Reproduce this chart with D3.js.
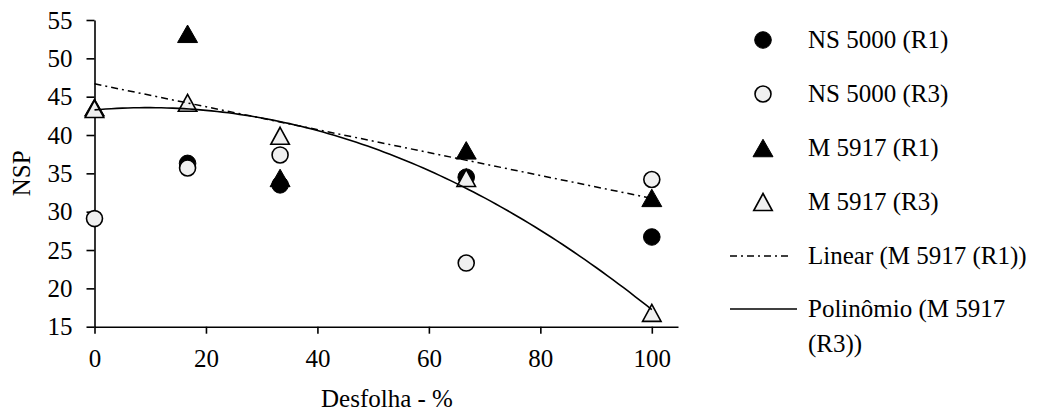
<!DOCTYPE html>
<html>
<head>
<meta charset="utf-8">
<script src="https://cdn.jsdelivr.net/npm/d3@7"></script>
<style>
  body { margin: 0; background: #fff; }
</style>
</head>
<body>
<div id="chart"></div>
<script>
// Desfolha levels (%)
const desfolha = [0, 16.7, 33.3, 66.7, 100];

// NSP per series (null = not plotted)
const ns5000R1 = [null, 36.3, 33.5, 34.5, 26.7];
const ns5000R3 = [29.1, 35.7, 37.4, 23.3, 34.2];
const m5917R1 = [43.6, 53.2, 34.4, 38.0, 31.8];
const m5917R3 = [43.4, 44.2, 39.9, 34.4, 16.8];

const xTicks = [0, 20, 40, 60, 80, 100];
const yTicks = [15, 20, 25, 30, 35, 40, 45, 50, 55];

const legendLabels = [
    "NS 5000 (R1)",
    "NS 5000 (R3)",
    "M 5917 (R1)",
    "M 5917 (R3)",
    "Linear (M 5917 (R1))",
    ["Polinômio (M 5917", "(R3))"]
];

const width = 1041, height = 412;
const fontSize = 25;
const serif = '"Liberation Serif", "DejaVu Serif", "Times New Roman", Times, serif';

const svg = d3.select("#chart").append("svg")
    .attr("width", width)
    .attr("height", height)
    .attr("font-family", serif);

// scales: x axis line runs a bit past 100
const x = d3.scaleLinear().domain([0, 104.7]).range([94.5, 678]);
const y = d3.scaleLinear().domain([15, 55]).range([326.7, 20]);

// axes
const xAxis = svg.append("g")
    .attr("transform", `translate(0,${y(15)})`)
    .call(d3.axisBottom(x).tickValues(xTicks).tickSize(7).tickSizeOuter(0).tickPadding(10));
const yAxis = svg.append("g")
    .attr("transform", `translate(${x(0)},0)`)
    .call(d3.axisLeft(y).tickValues(yTicks).tickSize(8).tickSizeOuter(0).tickPadding(14));

[xAxis, yAxis].forEach(a => {
    a.attr("font-family", serif).attr("font-size", fontSize);
    a.select(".domain").attr("stroke", "#000").attr("stroke-width", 1.6);
    a.selectAll(".tick line").attr("stroke", "#000").attr("stroke-width", 1.6);
    a.selectAll(".tick text")
        .style("font-family", serif)
        .style("font-size", fontSize + "px")
        .attr("fill", "#000");
});
xAxis.selectAll(".tick text").attr("dy", "0.95em");
yAxis.selectAll(".tick text").attr("dy", "0.33em");

// axis titles
svg.append("text")
    .attr("transform", `translate(30,${(y(15) + y(55)) / 2}) rotate(-90)`)
    .attr("text-anchor", "middle")
    .style("font-family", serif)
    .style("font-size", fontSize + "px")
    .text("NSP");
svg.append("text")
    .attr("x", 387)
    .attr("y", 407)
    .attr("text-anchor", "middle")
    .style("font-family", serif)
    .style("font-size", fontSize + "px")
    .text("Desfolha - %");

// marker helpers
function triPath(w, h) {
    return `M0,${-h / 2}L${w / 2},${h / 2}L${-w / 2},${h / 2}Z`;
}
const markers = {
    dot: g => g.append("circle").attr("r", 8.3).attr("fill", "#000").attr("stroke", "#000").attr("stroke-width", 1),
    ring: g => g.append("circle").attr("r", 8).attr("fill", "#f0f0f0").attr("stroke", "#000").attr("stroke-width", 1.6),
    triFill: g => g.append("path").attr("d", triPath(20, 17.5)).attr("fill", "#000").attr("stroke", "#000").attr("stroke-width", 1),
    triOpen: g => g.append("path").attr("d", triPath(18.5, 17)).attr("fill", "#f0f0f0").attr("stroke", "#000").attr("stroke-width", 1.6)
};

const series = [
    { values: ns5000R1, marker: "dot" },
    { values: ns5000R3, marker: "ring" },
    { values: m5917R1, marker: "triFill" },
    { values: m5917R3, marker: "triOpen" }
];

series.forEach(s => {
    desfolha.forEach((d, i) => {
        if (s.values[i] == null) return;
        const g = svg.append("g").attr("transform", `translate(${x(d)},${y(s.values[i])})`);
        markers[s.marker](g);
    });
});

// least squares fits
function linearFit(xs, ys) {
    const n = xs.length;
    const mx = d3.mean(xs), my = d3.mean(ys);
    let sxy = 0, sxx = 0;
    for (let i = 0; i < n; i++) {
        sxy += (xs[i] - mx) * (ys[i] - my);
        sxx += (xs[i] - mx) * (xs[i] - mx);
    }
    const b = sxy / sxx;
    return v => my + b * (v - mx);
}

function quadFit(xs, ys) {
    // normal equations for a + b x + c x^2
    const S = k => d3.sum(xs, v => Math.pow(v, k));
    const T = k => d3.sum(xs, (v, i) => Math.pow(v, k) * ys[i]);
    const A = [[S(0), S(1), S(2)], [S(1), S(2), S(3)], [S(2), S(3), S(4)]];
    const B = [T(0), T(1), T(2)];
    // gaussian elimination
    for (let i = 0; i < 3; i++) {
        for (let j = i + 1; j < 3; j++) {
            const f = A[j][i] / A[i][i];
            for (let k = i; k < 3; k++) A[j][k] -= f * A[i][k];
            B[j] -= f * B[i];
        }
    }
    const c = [0, 0, 0];
    for (let i = 2; i >= 0; i--) {
        let s = B[i];
        for (let k = i + 1; k < 3; k++) s -= A[i][k] * c[k];
        c[i] = s / A[i][i];
    }
    return v => c[0] + c[1] * v + c[2] * v * v;
}

const lin = linearFit(desfolha, m5917R1);
const poly = quadFit(desfolha, m5917R3);
const sampleX = d3.range(0, 100.01, 1);

const line = d3.line().x(d => x(d[0])).y(d => y(d[1]));

svg.append("path")
    .attr("d", line([[0, lin(0)], [100, lin(100)]]))
    .attr("fill", "none")
    .attr("stroke", "#000")
    .attr("stroke-width", 1.5)
    .attr("stroke-dasharray", "7,4,2,4");

svg.append("path")
    .attr("d", line(sampleX.map(v => [v, poly(v)])))
    .attr("fill", "none")
    .attr("stroke", "#000")
    .attr("stroke-width", 1.6);

// legend
const legendX = 763, textX = 808;
const rowY = [40, 94, 148, 202, 256, 309];
const legendKinds = ["dot", "ring", "triFill", "triOpen", "linear", "poly"];

legendKinds.forEach((kind, i) => {
    const yy = rowY[i];
    if (markers[kind]) {
        markers[kind](svg.append("g").attr("transform", `translate(${legendX},${yy})`));
    } else {
        svg.append("line")
            .attr("x1", 730).attr("x2", kind === "linear" ? 791 : 797)
            .attr("y1", yy).attr("y2", yy)
            .attr("stroke", "#000")
            .attr("stroke-width", 1.5)
            .attr("stroke-dasharray", kind === "linear" ? "7,4,2,4" : null);
    }
    const lbl = legendLabels[i];
    const t = svg.append("text")
        .attr("x", textX)
        .attr("y", yy + 8)
        .style("font-family", serif)
        .style("font-size", fontSize + "px");
    if (Array.isArray(lbl)) {
        lbl.forEach((part, j) => {
            t.append("tspan").attr("x", textX).attr("dy", j === 0 ? 0 : 35).text(part);
        });
    } else {
        t.text(lbl);
    }
});
</script>
</body>
</html>
